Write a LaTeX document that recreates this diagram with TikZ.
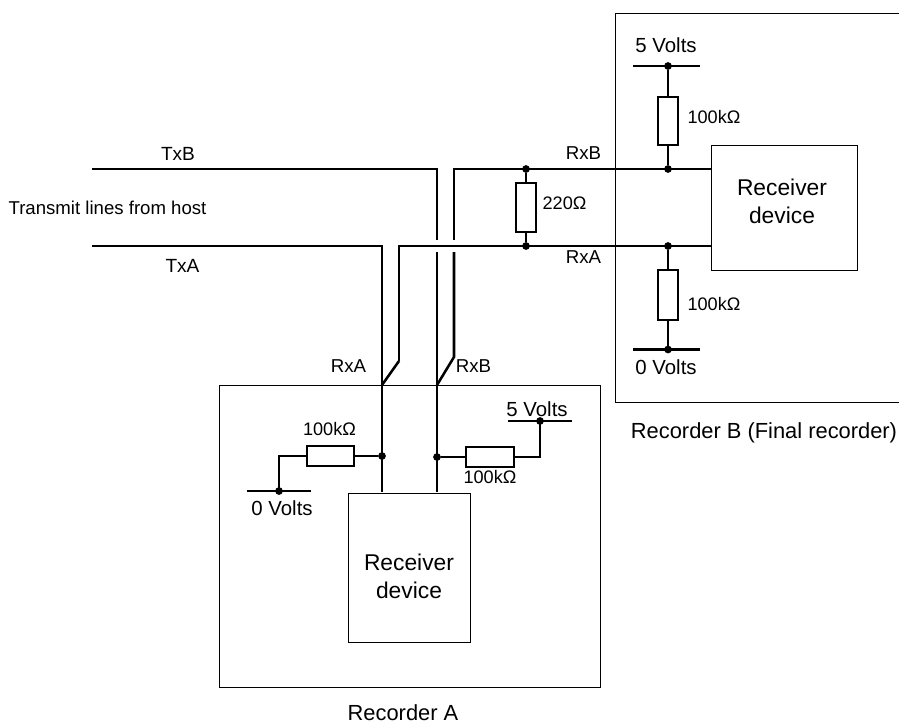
\documentclass[tikz,border=0pt]{standalone}
\usepackage{fontspec}
\setmainfont{Liberation Sans}
\tikzset{
  wire/.style={line width=1.9pt,line join=miter},
  thinbox/.style={draw,line width=0.7pt,inner sep=0pt,outer sep=0pt},
  resv/.style={draw,line width=1.7pt,fill=white,inner sep=0pt,outer sep=0pt,minimum width=15pt,minimum height=36pt},
  resh/.style={draw,line width=1.7pt,fill=white,inner sep=0pt,outer sep=0pt,minimum width=35.5pt,minimum height=15.5pt},
  dot/.style={circle,fill=black,inner sep=0pt,outer sep=0pt,minimum size=5.8pt},
  lab/.style={inner sep=0pt,outer sep=0pt,font=\fontsize{15.3pt}{18pt}\selectfont},
  rlab/.style={inner sep=0pt,outer sep=0pt,font=\fontsize{13.6pt}{15pt}\selectfont},
  rxlab/.style={inner sep=0pt,outer sep=0pt,font=\fontsize{14pt}{16pt}\selectfont},
  txlab/.style={inner sep=0pt,outer sep=0pt,font=\fontsize{14.3pt}{16pt}\selectfont},
  caplab/.style={inner sep=0pt,outer sep=0pt,font=\fontsize{16.4pt}{18pt}\selectfont},
  big/.style={inner sep=0pt,outer sep=0pt,align=center,font=\fontsize{17.1pt}{21pt}\selectfont},
}
\begin{document}
\begin{tikzpicture}[x=0.75pt,y=-0.75pt]
\useasboundingbox (0,0) rectangle (899,725);
% boxes
\node[thinbox,minimum width=285.75pt,minimum height=226.5pt] (recA) at (409.5,536) {};
\node[thinbox,minimum width=92pt,minimum height=111.75pt,fill=white] (devA) at (409.3,567.5) {};
\node[thinbox,minimum width=109.5pt,minimum height=93.75pt] (devB) at (784,207.5) {};
\coordinate (bTR) at (899,13);
\coordinate (bTL) at (615,13);
\coordinate (bBL) at (615,402.5);
\coordinate (bBR) at (899,402.5);
\draw[line width=0.7pt] (bTR) -- (bTL) -- (bBL) -- (bBR);
% free ends and bends
\coordinate (txB0) at (92,169);
\coordinate (txB1) at (437,169);
\coordinate (txB2) at (437,239.5);
\coordinate (txB3) at (437,252);
\coordinate (rxB1) at (454,239.5);
\coordinate (rxB2) at (454,169);
\coordinate (rxB3) at (454,252);
\coordinate (rxB4) at (454,357);
\coordinate (jB) at (437,385);
\coordinate (txA0) at (92,246);
\coordinate (txA1) at (382,246);
\coordinate (rxA1) at (399,246);
\coordinate (rxA2) at (399,361);
\coordinate (jA) at (382,385);
\coordinate (endA) at (382,492);
\coordinate (endB) at (437,492);
\coordinate (bendL) at (279,456);
\coordinate (bendR) at (540,457);
\coordinate (devBt) at (711,169);
\coordinate (devBb) at (711,246);
% bus bars
\coordinate (b5a) at (633,66);
\coordinate (b5b) at (700,66);
\coordinate (b0a) at (633,349.5);
\coordinate (b0b) at (700,349.5);
\coordinate (a0a) at (247,491);
\coordinate (a0b) at (311,491);
\coordinate (a5a) at (508,421);
\coordinate (a5b) at (572,421);
% dots
\node[dot] (d1) at (526,169) {};
\node[dot] (d2) at (526,246) {};
\node[dot] (d3) at (668,169) {};
\node[dot] (d4) at (668,246) {};
\node[dot] (d5) at (668,66) {};
\node[dot] (d6) at (668,349.5) {};
\node[dot] (d7) at (382,456) {};
\node[dot] (d8) at (437,457) {};
\node[dot] (d9) at (279,491) {};
\node[dot] (d10) at (540,421) {};
% wires
\draw[wire] (txB0) -- (txB1) -- (txB2);
\draw[wire] (txB3) -- (jB) -- (endB);
\draw[wire] (rxB1) -- (rxB2) -- (d1.center) -- (d3.center) -- (devBt);
\draw[wire] (rxB3) -- (rxB4) -- (jB);
\draw[wire] (txA0) -- (txA1) -- (jA) -- (endA);
\draw[wire] (rxA2) -- (jA);
\draw[wire] (rxA2) -- (rxA1) -- (d2.center) -- (d4.center) -- (devBb);
\draw[wire] (b5a) -- (b5b);
\draw[wire] (b0a) -- (b0b);
\draw[wire] (a0a) -- (a0b);
\draw[wire] (a5a) -- (a5b);
% resistors
\node[resv,minimum height=36.5pt] (r220) at (526,207.5) {};
\node[resv] (rB5) at (668,121) {};
\node[resv,minimum height=38pt] (rB0) at (668,295) {};
\node[resh] (rA0) at (330.5,456) {};
\node[resh] (rA5) at (490,457) {};
\draw[wire] (d1) -- (r220);
\draw[wire] (r220) -- (d2);
\draw[wire] (d5) -- (rB5);
\draw[wire] (rB5) -- (d3);
\draw[wire] (d4) -- (rB0);
\draw[wire] (rB0) -- (d6);
\draw[wire] (d9.center) -- (bendL) -- (rA0.west);
\draw[wire] (rA0) -- (d7);
\draw[wire] (d8) -- (rA5);
\draw[wire] (rA5.east) -- (bendR) -- (d10.center);
% labels
\node[txlab] (tTxB) at (178,154) {TxB};
\node[txlab] (tTxA) at (182.5,266) {TxA};
\node[inner sep=0pt,font=\fontsize{13.95pt}{16pt}\selectfont] (tHost) at (107.5,208) {Transmit lines from host};
\node[rxlab] (tRxB) at (583.5,153) {RxB};
\node[rxlab] (tRxA) at (583.5,257) {RxA};
\node[rxlab] (tRxA2) at (348.5,366) {RxA};
\node[rxlab] (tRxB2) at (473.5,366) {RxB};
\node[rlab] (t220) at (564.5,203) {220Ω};
\node[rlab] (t1) at (714,117) {100kΩ};
\node[rlab] (t2) at (714,304) {100kΩ};
\node[rlab] (t3) at (329.5,429) {100kΩ};
\node[rlab] (t4) at (490,477) {100kΩ};
\node[lab] (v1) at (666,45) {5 Volts};
\node[lab] (v2) at (666,367) {0 Volts};
\node[lab] (v3) at (282,508) {0 Volts};
\node[lab] (v4) at (537,409) {5 Volts};
\node[big] (devAt) at (409,576) {Receiver\\device};
\node[big] (devBt2) at (782,201) {Receiver\\device};
\node[caplab] (tA) at (403,713) {Recorder A};
\node[caplab] (tB) at (764,433) {Recorder B (Final recorder)};
\end{tikzpicture}
\end{document}
